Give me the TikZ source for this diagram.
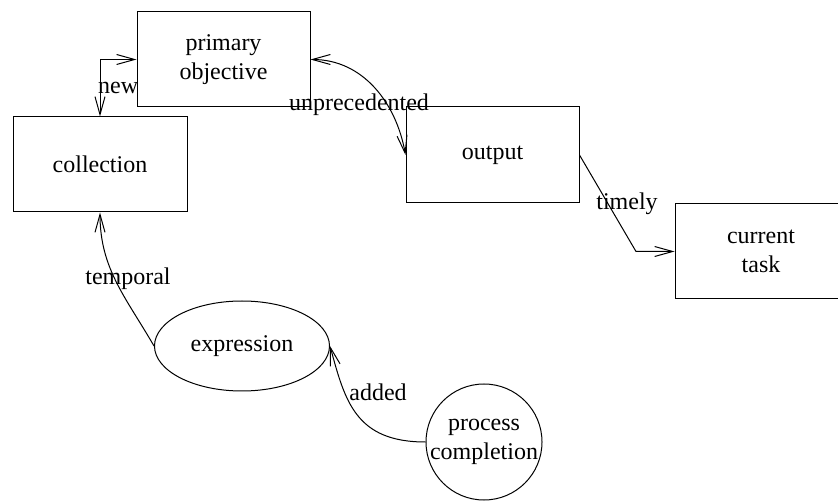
\documentclass[tikz,border=0pt]{standalone}
\usepackage{fontspec}
\setmainfont{Liberation Serif}
\usetikzlibrary{arrows.meta,shapes.geometric}
\begin{document}
\begin{tikzpicture}[x=1pt,y=1pt,
  every node/.style={font=\fontsize{24}{29}\selectfont},
  box/.style={draw=black, line width=1pt, rectangle, minimum width=173pt, minimum height=95pt, inner sep=0pt, align=center},
  oval/.style={draw=black, line width=1pt, ellipse, minimum width=175pt, minimum height=90pt, inner sep=0pt, align=center},
  ring/.style={draw=black, line width=1pt, circle, minimum size=116pt, inner sep=0pt},
  conn/.style={draw=black, line width=1pt},
  tip/.style={{Straight Barb[length=18pt,width=10pt]}},
  lbl/.style={anchor=base, inner sep=0pt}
]
\useasboundingbox (0,0) rectangle (838,-502);
\clip (0,0) rectangle (838,-502);

\node[box] (prim) at (223.5,-59.5) {primary\\objective};
\node[box, minimum width=174pt] (coll) at (100,-164.5) {collection};
\node[box, minimum height=96pt] (outp) at (492.5,-155) {output};
\node[box, minimum width=172pt] (cur) at (761,-251.5) {current\\task};
\node[oval] (expr) at (242,-346) {expression};
\node[ring] (proc) at (484,-442) {};
\node[align=center, inner sep=0pt] (proctext) at (proc.center) {process\\completion};
\coordinate (tcorner) at (636,-251.5);

\draw[conn, {Straight Barb[length=18pt,width=10pt]}-{Straight Barb[length=18pt,width=10pt]}] (coll.north) |- (prim.west);
\draw[conn, {Straight Barb[length=18pt,width=10pt]}-{Straight Barb[length=18pt,width=10pt]}] (prim.east) to[out=0,in=100] (outp.west);
\draw[conn, -{Straight Barb[length=18pt,width=10pt]}] (outp.east) -- (tcorner) -- (cur.west);
\draw[conn, -{Straight Barb[length=18pt,width=10pt]}] (expr.west) to[out=120,in=-90] (coll.south);
\draw[conn, -{Straight Barb[length=18pt,width=10pt]}] (proc.west) .. controls +(-70,0) and +(15,-55) .. (expr.east);

\node[lbl, anchor=base west] (lnew) at (98,-94) {new};
\node[lbl] (lunp) at (359,-111) {unprecedented};
\node[lbl] (ltim) at (627,-210) {timely};
\node[lbl] (ltem) at (128,-285) {temporal};
\node[lbl] (ladd) at (378,-400) {added};
\end{tikzpicture}
\end{document}
